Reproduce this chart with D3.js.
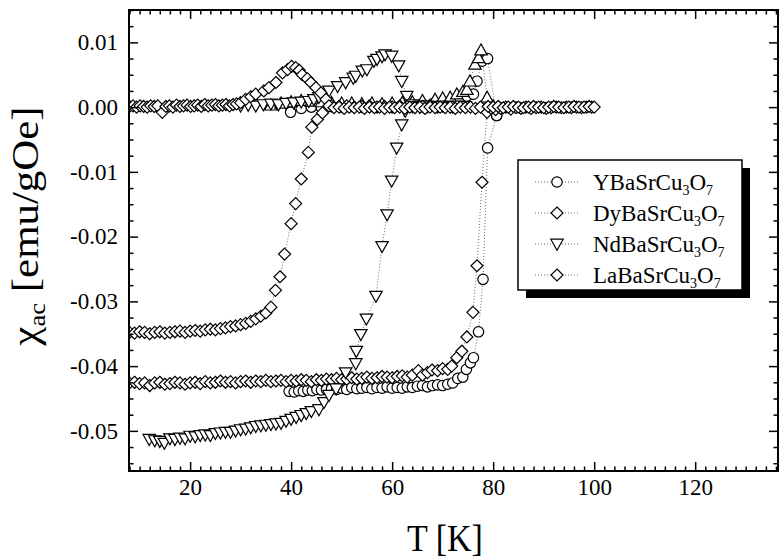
<!DOCTYPE html>
<html>
<head>
<meta charset="utf-8">
<script src="https://cdn.jsdelivr.net/npm/d3@7"></script>
<style>
  body { margin: 0; background: #fff; }
  svg { display: block; }
  text { font-family: "Liberation Serif", "Times New Roman", serif; fill: #000; }
</style>
</head>
<body>
<div id="chart"></div>
<script>
// chart size and plot frame
const width = 781, height = 558;
const plotLeft = 129, plotRight = 778, plotTop = 10, plotBottom = 471;

// axis ticks
const xMajor = [20, 40, 60, 80, 100, 120];
const yMajor = [0.01, 0.00, -0.01, -0.02, -0.03, -0.04, -0.05];

// legend labels: rendered as XBaSrCu3O7
const legendNames = ["YBaSrCu", "DyBaSrCu", "NdBaSrCu", "LaBaSrCu"];
const legendMarkers = ["circle", "diamond", "down", "diamond"];

// YBaSrCu3O7 (circles) - [T, chi]
const yReal = [[39.6,-0.0439],[40.6,-0.0440],[41.5,-0.0438],[42.4,-0.0439],[43.3,-0.0437],[44.2,-0.0438],[45.1,-0.0436],[46.0,-0.0437],[47.0,-0.0436],[48.0,-0.0435],[49.0,-0.0436],[50.0,-0.0434],[51.0,-0.0436],[52.0,-0.0433],[53.0,-0.0435],[54.0,-0.0434],[55.0,-0.0433],[56.0,-0.0435],[57.0,-0.0433],[58.0,-0.0434],[59.0,-0.0432],[60.0,-0.0434],[61.0,-0.0433],[62.0,-0.0434],[63.0,-0.0432],[64.0,-0.0433],[65.0,-0.0431],[66.0,-0.0430],[67.0,-0.0432],[68.0,-0.0430],[69.0,-0.0429],[70.0,-0.0430],[71.0,-0.0428],[72.0,-0.0426],[73.0,-0.0419],[74.0,-0.0417],[74.7,-0.0405],[75.5,-0.0395],[76.1,-0.0387],[77.1,-0.0347],[78.0,-0.0266],[78.9,-0.0063],[80.7,-0.0013]];
const yImag = [[39.9,-0.0008],[42.0,-0.0002],[44.0,0.0000],[46.0,-0.0001],[48.0,0.0001],[50.0,0.0000],[52.0,0.0001],[54.0,0.0000],[56.0,0.0001],[58.0,0.0002],[60.0,0.0001],[62.0,0.0002],[64.0,0.0003],[66.0,0.0004],[68.0,0.0005],[70.0,0.0006],[72.0,0.0009],[73.5,0.0013],[74.8,0.0017],[76.1,0.0020],[76.8,0.0040],[77.8,0.0071],[78.9,0.0075],[80.7,-0.0013]];

// DyBaSrCu3O7 (diamonds)
const dyReal = [[8,-0.0426],[9,-0.0425],[10,-0.0427],[11,-0.0426],[12,-0.0430],[13,-0.0426],[14,-0.0425],[15,-0.0428],[16,-0.0427],[17,-0.0425],[18,-0.0426],[19,-0.0428],[20,-0.0426],[21,-0.0425],[22,-0.0427],[23,-0.0424],[24,-0.0426],[25,-0.0425],[26,-0.0423],[27,-0.0425],[28,-0.0424],[29,-0.0426],[30,-0.0424],[31,-0.0423],[32,-0.0425],[33,-0.0423],[34,-0.0424],[35,-0.0422],[36,-0.0424],[37,-0.0423],[38,-0.0422],[39,-0.0424],[40,-0.0422],[41,-0.0423],[42,-0.0421],[43,-0.0422],[44,-0.0424],[45,-0.0421],[46,-0.0422],[47,-0.0420],[48,-0.0421],[49,-0.0419],[50,-0.0421],[51,-0.0420],[52,-0.0418],[53,-0.0420],[54,-0.0419],[55,-0.0417],[56,-0.0419],[57,-0.0418],[58,-0.0416],[59,-0.0417],[60,-0.0418],[61,-0.0416],[62,-0.0415],[63,-0.0417],[64,-0.0414],[65.2,-0.0407],[66,-0.0414],[67,-0.0410],[67.9,-0.0406],[69,-0.0407],[70,-0.0404],[71,-0.0405],[71.8,-0.0400],[72.8,-0.0387],[73.8,-0.0377],[74.8,-0.0355],[76.0,-0.0317],[76.8,-0.0245],[77.8,-0.0116],[78.8,-0.0008],[79.6,-0.0002],[80.5,-0.0004],[81.5,-0.0002],[82.5,0.0000],[83.5,-0.0003],[84.5,-0.0001],[85.5,-0.0002],[86.5,0.0000],[87.5,-0.0002],[88.5,-0.0001],[89.5,0.0000],[90.5,-0.0002],[91.5,-0.0001],[92.5,0.0000],[93.5,-0.0001],[94.5,0.0000],[95.5,-0.0001],[96.5,0.0000],[97.5,-0.0001],[98.5,0.0000],[99.5,0.0000]];
const dyImag = [[36,0.0003],[38,0.0006],[40,0.0008],[42,0.0010],[44,0.0009],[46,0.0008],[48,0.0007],[50,0.0006],[52,0.0006],[54,0.0005],[56,0.0006],[58,0.0005],[60,0.0006],[62,0.0007],[64,0.0008],[66,0.0010],[68.5,0.0012],[70,0.0014],[71.5,0.0015],[72.8,0.0020],[74,0.0024],[74.8,0.0027],[75.4,0.0040],[76.4,0.0066],[77.1,0.0076],[77.6,0.0088],[78.8,0.0015],[80,0.0002]];

// NdBaSrCu3O7 (down triangles)
const ndReal = [[11.9,-0.0513],[13,-0.0515],[14,-0.0516],[14.9,-0.0519],[16,-0.0512],[17,-0.0513],[18,-0.0511],[19,-0.0512],[20,-0.0508],[21,-0.0509],[22,-0.0507],[23,-0.0506],[24,-0.0507],[25,-0.0504],[26,-0.0503],[27,-0.0502],[28,-0.0502],[29,-0.0500],[30,-0.0498],[31,-0.0497],[32,-0.0495],[33,-0.0493],[34,-0.0492],[35,-0.0491],[36,-0.0490],[37,-0.0489],[38,-0.0488],[39,-0.0485],[40,-0.0482],[41,-0.0479],[42,-0.0476],[43,-0.0473],[44,-0.0470],[45.5,-0.0467],[46.5,-0.0456],[47.5,-0.0445],[48.9,-0.0435],[50.8,-0.0410],[52.8,-0.0396],[52.9,-0.0377],[53.8,-0.0351],[54.9,-0.0327],[56.8,-0.0292],[58,-0.0215],[59,-0.0166],[59.9,-0.0114],[60.9,-0.0063],[61.9,-0.0027],[62.6,-0.0006],[64,0.0001],[65.5,0.0000],[67,0.0002],[68.5,0.0001],[70,0.0002],[71.5,0.0001],[73,0.0002],[74.5,0.0001]];
const ndImag = [[30,0.0002],[31.5,0.0003],[33,0.0002],[34.5,0.0004],[36,0.0005],[37.5,0.0004],[39,0.0006],[40.5,0.0007],[42,0.0008],[43.5,0.0009],[44.5,0.0012],[45.5,0.0015],[46.5,0.0020],[47.5,0.0025],[49.2,0.0032],[50.8,0.0038],[52.3,0.0045],[52.8,0.0048],[54.1,0.0056],[55,0.0058],[56.4,0.0071],[57,0.0074],[58,0.0078],[58.6,0.0081],[59.9,0.0079],[61.3,0.0064],[61.9,0.0040],[62.9,0.0017],[64,0.0004],[65.5,0.0002],[67,0.0001]];

// LaBaSrCu3O7 (diamonds)
const laReal = [[8,-0.0348],[9,-0.0349],[10,-0.0347],[11,-0.0348],[12,-0.0350],[13,-0.0348],[14,-0.0347],[15,-0.0349],[16,-0.0348],[17,-0.0347],[18,-0.0346],[19,-0.0348],[20,-0.0346],[21,-0.0345],[22,-0.0346],[23,-0.0344],[24,-0.0343],[25,-0.0344],[26,-0.0342],[27,-0.0341],[28,-0.0339],[29,-0.0338],[30,-0.0336],[31,-0.0334],[32,-0.0331],[33,-0.0327],[34,-0.0323],[35,-0.0318],[36,-0.0309],[36.9,-0.0283],[37.8,-0.0262],[38.7,-0.0227],[40.0,-0.0180],[40.9,-0.0149],[42.0,-0.0111],[43.4,-0.0070],[44.1,-0.0031],[45.2,-0.0019],[46.2,-0.0009],[47.5,0.0002],[48.5,-0.0001],[49.5,0.0000],[50.5,-0.0002],[51.5,0.0000],[52.5,-0.0001],[53.5,0.0000],[54.5,-0.0002],[55.5,0.0000],[56.5,-0.0001],[57.5,0.0000],[58.5,-0.0002],[59.5,0.0000],[60.5,-0.0001],[61.5,0.0000],[62.5,-0.0002],[63.5,0.0000],[64.5,-0.0001],[65.5,0.0000],[66.5,-0.0002],[67.5,0.0000],[68.5,-0.0001],[69.5,0.0000],[70.5,-0.0001],[71.5,0.0000],[72.5,-0.0002],[73.5,0.0000],[74.5,-0.0001],[75.5,0.0000],[76.5,-0.0002],[77.5,0.0000],[79.0,0.0001],[80.0,0.0000],[81.0,0.0001],[82.0,-0.0001],[83.0,0.0000],[84.0,0.0001],[85.0,0.0000],[86.0,-0.0001],[87.0,0.0000],[88.0,0.0001],[89.0,0.0000],[90.0,-0.0001],[91.0,0.0000],[92.0,0.0001],[93.0,0.0000],[94.0,-0.0001],[95.0,0.0000],[96.0,0.0001],[97.0,0.0000],[98.0,0.0000],[99.0,0.0001],[100.0,0.0000]];
const laImag = [[8,0.0001],[8.7,0.0002],[9.4,0.0000],[10.1,0.0002],[10.8,0.0001],[11.5,0.0000],[12.2,0.0002],[12.9,0.0001],[13.6,0.0002],[14.5,-0.0008],[15.2,0.0001],[15.9,0.0002],[16.6,0.0000],[17.3,0.0003],[18.0,0.0001],[18.7,0.0002],[19.4,0.0003],[20.1,0.0001],[20.8,0.0002],[21.5,0.0003],[22.2,0.0001],[22.9,0.0004],[23.6,0.0002],[24.3,0.0003],[25.0,0.0004],[25.7,0.0002],[26.4,0.0003],[27.1,0.0004],[27.8,0.0002],[28.5,0.0004],[29.2,0.0005],[30.0,0.0007],[31,0.0012],[32,0.0016],[33,0.0020],[34.6,0.0025],[35.6,0.0030],[37,0.0038],[38.3,0.0053],[39.3,0.0058],[40.1,0.0063],[40.9,0.0061],[41.6,0.0057],[42.2,0.0050],[43.2,0.0044],[43.9,0.0038],[44.9,0.0030],[45.9,0.0022],[46.9,0.0012],[48,0.0002],[49.5,0.0001],[51,0.0002],[52.5,0.0000],[54,0.0001],[55.5,0.0002],[57,0.0000],[58.5,0.0001],[60,0.0000],[61.5,0.0002],[63,0.0001],[64.5,0.0000],[66,0.0001],[67.5,0.0002],[69,0.0000],[70.5,0.0001],[72,0.0000]];

// which traces belong to which marker, in drawing order
const traces = [
  { data: yImag, marker: "circle" },
  { data: yReal, marker: "circle" },
  { data: dyImag, marker: "up" },
  { data: dyReal, marker: "diamond" },
  { data: ndImag, marker: "down" },
  { data: ndReal, marker: "down" },
  { data: laImag, marker: "diamond" },
  { data: laReal, marker: "diamond" }
];

const markerPath = {
  circle: "M5.2,0A5.2,5.2 0 1,1 -5.2,0A5.2,5.2 0 1,1 5.2,0Z",
  diamond: "M0,-6L6,0L0,6L-6,0Z",
  down: "M-6.2,-4.8L6.2,-4.8L0,6.2Z",
  up: "M-6.2,4.8L6.2,4.8L0,-6.2Z"
};

const svg = d3.select("#chart")
  .append("svg")
  .attr("width", width)
  .attr("height", height);

svg.append("rect").attr("width", width).attr("height", height).attr("fill", "#fff");

const x = d3.scaleLinear().domain([7.9, 136.4]).range([plotLeft, plotRight]);
const y = d3.scaleLinear().domain([-0.0562, 0.0150]).range([plotBottom, plotTop]);

const xMinor = d3.range(8, 137, 2).filter(d => d % 20 !== 0);
const yMinor = d3.range(-22, 7).filter(i => i % 4 !== 0).map(i => i * 0.0025);

svg.append("clipPath").attr("id", "plot-clip")
  .append("rect")
  .attr("x", plotLeft).attr("y", plotTop)
  .attr("width", plotRight - plotLeft).attr("height", plotBottom - plotTop);

// draw traces: dotted connecting lines, then open markers
const line = d3.line().x(d => x(d[0])).y(d => y(d[1]));
const plot = svg.append("g").attr("clip-path", "url(#plot-clip)");

traces.forEach(t => {
  plot.append("path")
    .datum(t.data)
    .attr("d", line)
    .attr("fill", "none")
    .attr("stroke", "#555")
    .attr("stroke-width", 0.9)
    .attr("stroke-dasharray", "1,2");
});

traces.forEach(t => {
  plot.selectAll(null)
    .data(t.data)
    .enter()
    .append("path")
    .attr("d", markerPath[t.marker])
    .attr("transform", d => `translate(${x(d[0])},${y(d[1])})`)
    .attr("fill", "#fff")
    .attr("stroke", "#000")
    .attr("stroke-width", 1.2);
});

// axes with inward ticks on all four sides
function styleAxis(g) {
  g.select(".domain").remove();
  g.selectAll(".tick line").attr("stroke", "#000").attr("stroke-width", 1.5);
  g.attr("font-size", 23).attr("font-family", "Liberation Serif, Times New Roman, serif");
}

svg.append("g")
  .attr("transform", `translate(0,${plotBottom})`)
  .call(d3.axisBottom(x).tickValues(xMajor).tickSize(-9).tickPadding(8).tickFormat(d3.format("d")))
  .call(styleAxis);
svg.append("g")
  .attr("transform", `translate(0,${plotBottom})`)
  .call(d3.axisBottom(x).tickValues(xMinor).tickSize(-4.5).tickFormat(""))
  .call(styleAxis);
svg.append("g")
  .attr("transform", `translate(0,${plotTop})`)
  .call(d3.axisTop(x).tickValues(xMajor).tickSize(-9).tickFormat(""))
  .call(styleAxis);
svg.append("g")
  .attr("transform", `translate(0,${plotTop})`)
  .call(d3.axisTop(x).tickValues(xMinor).tickSize(-4.5).tickFormat(""))
  .call(styleAxis);

svg.append("g")
  .attr("transform", `translate(${plotLeft},0)`)
  .call(d3.axisLeft(y).tickValues(yMajor).tickSize(-9).tickPadding(11).tickFormat(d => d.toFixed(2)))
  .call(styleAxis);
svg.append("g")
  .attr("transform", `translate(${plotLeft},0)`)
  .call(d3.axisLeft(y).tickValues(yMinor).tickSize(-4.5).tickFormat(""))
  .call(styleAxis);
svg.append("g")
  .attr("transform", `translate(${plotRight},0)`)
  .call(d3.axisRight(y).tickValues(yMajor).tickSize(-9).tickFormat(""))
  .call(styleAxis);
svg.append("g")
  .attr("transform", `translate(${plotRight},0)`)
  .call(d3.axisRight(y).tickValues(yMinor).tickSize(-4.5).tickFormat(""))
  .call(styleAxis);

// frame
svg.append("rect")
  .attr("x", plotLeft).attr("y", plotTop)
  .attr("width", plotRight - plotLeft).attr("height", plotBottom - plotTop)
  .attr("fill", "none")
  .attr("stroke", "#000")
  .attr("stroke-width", 2);

// axis titles
svg.append("text")
  .attr("transform", `translate(445,551) scale(1,1.1)`)
  .attr("text-anchor", "middle")
  .attr("font-size", 34)
  .text("T [K]");

const yTitle = svg.append("text")
  .attr("transform", `translate(38,226) rotate(-90) scale(1.16,1)`)
  .attr("text-anchor", "middle")
  .attr("font-size", 37);
yTitle.append("tspan").text("\u03c7");
yTitle.append("tspan").attr("font-size", 23).attr("dy", 7).text("ac");
yTitle.append("tspan").attr("dy", -7).text(" [emu/gOe]");

// legend
const legend = svg.append("g").attr("transform", "translate(518,160)");
legend.append("rect")
  .attr("x", 8).attr("y", 8).attr("width", 224).attr("height", 130)
  .attr("fill", "#000");
legend.append("rect")
  .attr("width", 224).attr("height", 130)
  .attr("fill", "#fff")
  .attr("stroke", "#000")
  .attr("stroke-width", 1.5);

legendNames.forEach((name, i) => {
  const row = legend.append("g").attr("transform", `translate(0,${22 + i * 31})`);
  row.append("line")
    .attr("x1", 17).attr("x2", 62)
    .attr("stroke", "#555").attr("stroke-width", 0.9)
    .attr("stroke-dasharray", "1,2");
  row.append("path")
    .attr("d", markerPath[legendMarkers[i]])
    .attr("transform", "translate(39,0)")
    .attr("fill", "#fff").attr("stroke", "#000").attr("stroke-width", 1.2);
  const label = row.append("text").attr("x", 75).attr("y", 8).attr("font-size", 23);
  label.append("tspan").text(name);
  label.append("tspan").attr("font-size", 14).attr("dy", 5).text("3");
  label.append("tspan").attr("dy", -5).text("O");
  label.append("tspan").attr("font-size", 14).attr("dy", 5).text("7");
});
</script>
</body>
</html>
